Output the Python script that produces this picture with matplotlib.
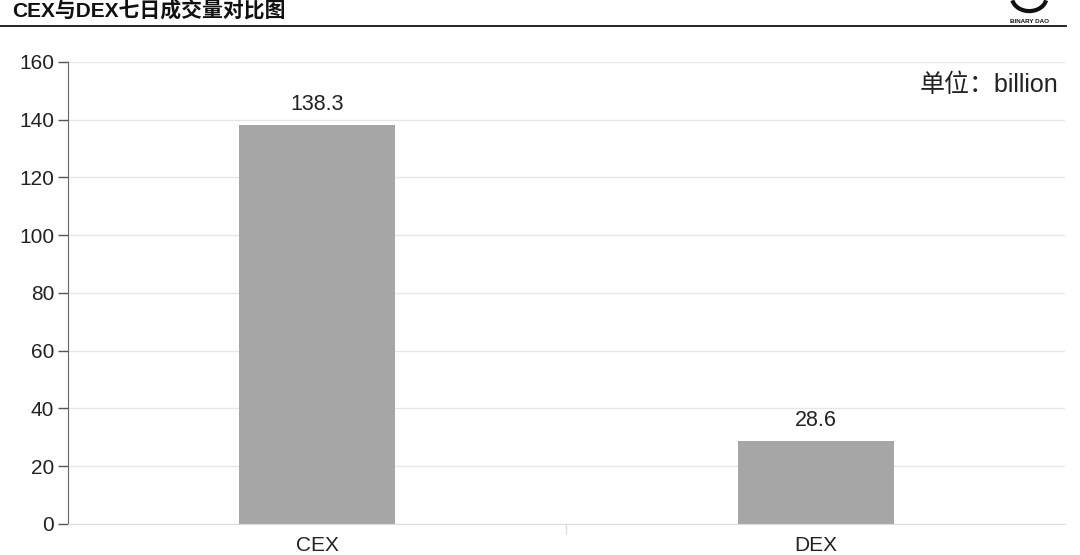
import numpy as np
import matplotlib.pyplot as plt
from matplotlib.patches import Arc

plt.rcParams['font.family'] = ['Liberation Sans', 'Noto Sans CJK SC', 'DejaVu Sans']

# data
categories = ['CEX', 'DEX']
volumes = [138.3, 28.6]
y_ticks = [0, 20, 40, 60, 80, 100, 120, 140, 160]

fig = plt.figure(figsize=(10.8, 5.55), dpi=100)
ax = fig.add_axes([0.063, 0.0559, 0.923, 0.8324])

x = np.arange(len(categories))
ax.bar(x, volumes, width=0.313, color='#a6a6a6', zorder=2)
for xi, v in zip(x, volumes):
    ax.text(xi, v + 3.5, f'{v:.1f}', ha='center', va='bottom', fontsize=15.5, color='#222222')

ax.set_xlim(-0.5, 1.5)
ax.set_ylim(0, 160)
ax.set_yticks(y_ticks)
ax.yaxis.grid(True, color='#e6e6e6', linewidth=1, zorder=0)
ax.set_axisbelow(True)

ax.set_xticks(x)
ax.set_xticklabels(categories, fontsize=15, color='#222222')
ax.tick_params(axis='x', length=0, pad=9)
ax.set_xticks([0.5], minor=True)
ax.tick_params(axis='x', which='minor', length=7, color='#dddddd', width=1)
ax.tick_params(axis='y', labelsize=15, length=7, color='#555555', width=1,
               labelcolor='#222222', pad=3)

for s in ['top', 'right']:
    ax.spines[s].set_visible(False)
ax.spines['left'].set_color('#666666')
ax.spines['bottom'].set_color('#dddddd')

ax.text(0.993, 0.95, '单位：billion', transform=ax.transAxes, ha='right', va='center',
        fontsize=18, color='#222222')

# header
fig.text(0.011, 0.98, 'CEX与DEX七日成交量对比图', ha='left', va='center', fontsize=15,
         fontweight='bold', color='#111111')
fig.add_artist(plt.Line2D([0, 0.987], [0.953, 0.953], color='#111111', linewidth=1.3,
                          transform=fig.transFigure))

# logo
fig.add_artist(Arc((0.953, 1.005), 0.032, 0.05, theta1=200, theta2=340,
                   transform=fig.transFigure, color='#111111', linewidth=3))
fig.text(0.953, 0.962, 'BINARY DAO', ha='center', va='center', fontsize=4.5,
         fontweight='bold', color='#111111')

fig.savefig('out.png', dpi=100)
